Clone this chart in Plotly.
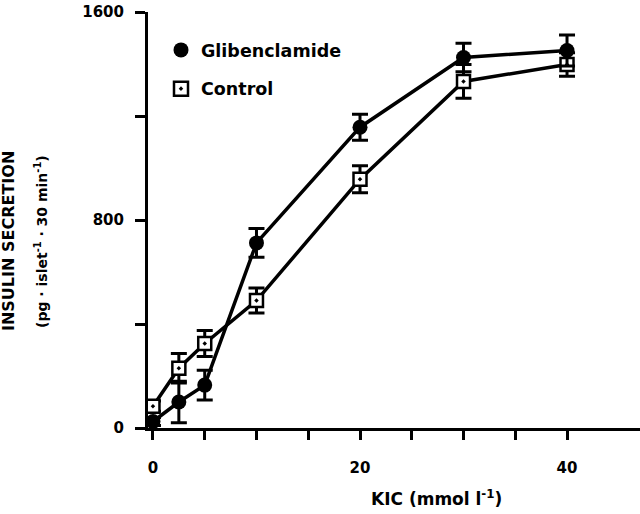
import plotly.graph_objects as go

# Data
kic = [0, 2.5, 5, 10, 20, 30, 40]
glib = [25, 100, 165, 712, 1157, 1425, 1452]
glib_err = [15, 80, 57, 55, 50, 55, 60]
control = [84, 230, 325, 490, 957, 1333, 1398]
control_err = [20, 57, 50, 48, 52, 65, 45]

x_tickvals = [0, 5, 10, 15, 20, 25, 30, 35, 40]
x_ticktext = ["0", "", "", "", "20", "", "", "", "40"]
y_tickvals = [0, 400, 800, 1200, 1600]
y_ticktext = ["0", "", "800", "", "1600"]

FONT = "DejaVu Sans"

fig = go.Figure()

fig.add_trace(go.Scatter(
    x=kic, y=control, mode="lines+markers", showlegend=False,
    line=dict(color="black", width=3.5),
    marker=dict(symbol="square-dot", size=13, color="white",
                line=dict(color="black", width=2.5)),
    error_y=dict(type="data", array=control_err, visible=True,
                 color="black", thickness=3, width=8),
))
fig.add_trace(go.Scatter(
    x=kic, y=glib, mode="lines+markers", showlegend=False,
    line=dict(color="black", width=3.5),
    marker=dict(symbol="circle", size=15, color="black"),
    error_y=dict(type="data", array=glib_err, visible=True,
                 color="black", thickness=3, width=8),
))

# legend-only entries
fig.add_trace(go.Scatter(
    x=[None], y=[None], mode="markers", name="Glibenclamide",
    legendgroup="g", marker=dict(symbol="circle", size=15, color="black"),
))
fig.add_trace(go.Scatter(
    x=[None], y=[None], mode="markers", name="Control",
    legendgroup="c", marker=dict(symbol="square-dot", size=14, color="white",
                                 line=dict(color="black", width=2.5)),
))

fig.update_layout(
    width=640, height=514,
    margin=dict(l=148, r=0, t=12, b=86),
    plot_bgcolor="white", paper_bgcolor="white",
    font=dict(family=FONT, color="black", weight="bold"),
    legend=dict(x=(161 - 148) / 492, y=(428 - 32) / 416, xanchor="left", yanchor="top",
                font=dict(size=17.5, family=FONT, weight="bold"),
                bgcolor="rgba(0,0,0,0)", tracegroupgap=13,
                traceorder="grouped"),
    xaxis=dict(range=[-0.48, 47.05], tickvals=x_tickvals, ticktext=x_ticktext,
               ticks="outside", ticklen=9, tickwidth=3, tickcolor="black",
               showline=True, linecolor="black", linewidth=3,
               showgrid=False, zeroline=False,
               tickfont=dict(size=15, family=FONT, weight="bold"),
               ticklabelstandoff=15),
    yaxis=dict(range=[0, 1600], tickvals=y_tickvals, ticktext=y_ticktext,
               ticks="outside", ticklen=10, tickwidth=3, tickcolor="black",
               showline=True, linecolor="black", linewidth=3,
               showgrid=False, zeroline=False,
               tickfont=dict(size=15, family=FONT, weight="bold"),
               ticklabelstandoff=8),
    annotations=[
        dict(text="KIC (mmol l<sup>-1</sup>)", xref="paper", yref="paper",
             x=(436 - 148) / 492, y=(428 - 498) / 416, showarrow=False,
             xanchor="center", yanchor="middle",
             font=dict(size=17, family=FONT, weight="bold")),
        dict(text="INSULIN SECRETION", xref="paper", yref="paper",
             x=(9 - 148) / 492, y=(428 - 241) / 416, showarrow=False,
             textangle=-90, xanchor="center", yanchor="middle",
             font=dict(size=16, family=FONT, weight="bold")),
        dict(text="(pg · islet<sup>-1</sup> · 30 min<sup>-1</sup>)",
             xref="paper", yref="paper",
             x=(41 - 148) / 492, y=(428 - 242) / 416, showarrow=False,
             textangle=-90, xanchor="center", yanchor="middle",
             font=dict(size=14, family=FONT, weight="bold")),
    ],
)

fig.write_html("out.html",
               config={"displayModeBar": False},
               post_script="document.body.style.margin='0';document.body.style.padding='0';")
